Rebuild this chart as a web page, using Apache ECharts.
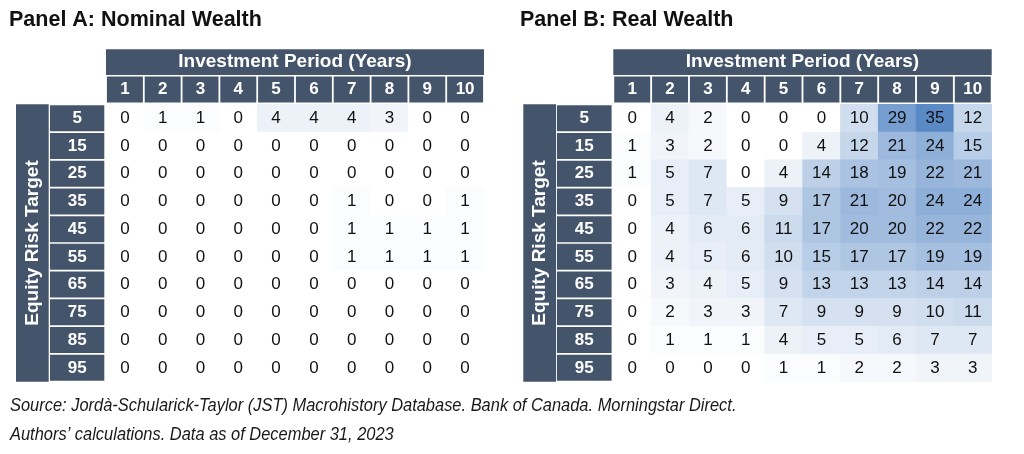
<!DOCTYPE html>
<html>
<head>
<meta charset="utf-8">
<script src="https://cdn.jsdelivr.net/npm/echarts@6/dist/echarts.min.js"></script>
<style>html,body{margin:0;padding:0;background:#fff}#c{width:1024px;height:454px}</style>
</head>
<body>
<div id="c"></div>
<script>
const periods = ['1','2','3','4','5','6','7','8','9','10'];
const riskTargets = ['5','15','25','35','45','55','65','75','85','95'];
const nominalWealth = [
  [0,1,1,0,4,4,4,3,0,0],
  [0,0,0,0,0,0,0,0,0,0],
  [0,0,0,0,0,0,0,0,0,0],
  [0,0,0,0,0,0,1,0,0,1],
  [0,0,0,0,0,0,1,1,1,1],
  [0,0,0,0,0,0,1,1,1,1],
  [0,0,0,0,0,0,0,0,0,0],
  [0,0,0,0,0,0,0,0,0,0],
  [0,0,0,0,0,0,0,0,0,0],
  [0,0,0,0,0,0,0,0,0,0]
];
const realWealth = [
  [0,4,2,0,0,0,10,29,35,12],
  [1,3,2,0,0,4,12,21,24,15],
  [1,5,7,0,4,14,18,19,22,21],
  [0,5,7,5,9,17,21,20,24,24],
  [0,4,6,6,11,17,20,20,22,22],
  [0,4,5,6,10,15,17,17,19,19],
  [0,3,4,5,9,13,13,13,14,14],
  [0,2,3,3,7,9,9,9,10,11],
  [0,1,1,1,4,5,5,6,7,7],
  [0,0,0,0,1,1,2,2,3,3]
];
const panelTitles = ['Panel A: Nominal Wealth', 'Panel B: Real Wealth'];
const xHeader = 'Investment Period (Years)';
const yHeader = 'Equity Risk Target';
const sourceLines = [
  'Source: Jordà-Schularick-Taylor (JST) Macrohistory Database. Bank of Canada. Morningstar Direct.',
  'Authors\u2019 calculations. Data as of December 31, 2023'
];

const FONT = '"Liberation Sans", Arial, sans-serif';
const HEAD = '#44546A';

function toCells(mat){
  const out = [];
  mat.forEach((row, r) => row.forEach((v, c) => out.push([c, r, v])));
  return out;
}

const grids = [
  {left: 106, top: 104.3, width: 378, height: 277.4},
  {left: 613.3, top: 104.3, width: 378.4, height: 277.4}
];

function xAxisFor(i){
  return {
    type: 'category', data: periods, gridIndex: i, position: 'top',
    axisLine: {show: false}, axisTick: {show: false}, splitLine: {show: false},
    axisLabel: {
      interval: 0, margin: 1.7,
      formatter: v => '{b|' + v + '}',
      rich: {b: {width: 36, height: 26, lineHeight: 26, align: 'center',
        backgroundColor: HEAD, color: '#fff', fontWeight: 'bold', fontSize: 17, fontFamily: FONT}}
    },
    name: '{n|' + xHeader + '}', nameLocation: 'middle', nameGap: 29.3, nameMoveOverlap: false,
    nameTextStyle: {rich: {n: {color: '#fff', fontWeight: 'bold', fontSize: 19, fontFamily: FONT,
      backgroundColor: HEAD, width: i === 0 ? 378 : 378.4, height: 25.7, lineHeight: 25.7, align: 'center'}}}
  };
}
function yAxisFor(i){
  return {
    type: 'category', data: riskTargets, gridIndex: i, inverse: true,
    axisLine: {show: false}, axisTick: {show: false}, splitLine: {show: false},
    axisLabel: {
      interval: 0, margin: 1.7,
      formatter: v => '{b|' + v + '}',
      rich: {b: {width: i === 0 ? 54.3 : 54.7, height: 26, lineHeight: 26, align: 'center',
        backgroundColor: HEAD, color: '#fff', fontWeight: 'bold', fontSize: 17, fontFamily: FONT}}
    },
    name: '{n|' + yHeader + '}', nameLocation: 'middle', nameRotate: 90, nameGap: 57.3, nameMoveOverlap: false,
    nameTextStyle: {rich: {n: {color: '#fff', fontWeight: 'bold', fontSize: 19, fontFamily: FONT,
      backgroundColor: HEAD, width: 277.4, height: 32.7, lineHeight: 32.7, align: 'center'}}}
  };
}
function seriesFor(i, mat){
  return {
    type: 'heatmap', xAxisIndex: i, yAxisIndex: i, data: toCells(mat),
    itemStyle: {borderWidth: 0},
    label: {show: true, color: '#111', fontSize: 17, fontFamily: FONT},
    emphasis: {disabled: true}
  };
}

const chart = echarts.init(document.getElementById('c'), null, {renderer: 'canvas'});
chart.setOption({
  animation: false,
  backgroundColor: '#fff',
  title: [
    {text: panelTitles[0], left: 4, top: 4, textStyle: {fontSize: 21.5, fontWeight: 'bold', color: '#111', fontFamily: FONT}},
    {text: panelTitles[1], left: 515, top: 4, textStyle: {fontSize: 21.5, fontWeight: 'bold', color: '#111', fontFamily: FONT}}
  ],
  graphic: [
    {type: 'text', x: 10, y: 396, scaleX: 0.865, silent: true,
      style: {text: sourceLines[0], fontSize: 19, fontStyle: 'italic', fill: '#1a1a1a', fontFamily: FONT}},
    {type: 'text', x: 10, y: 425, scaleX: 0.865, silent: true,
      style: {text: sourceLines[1], fontSize: 19, fontStyle: 'italic', fill: '#1a1a1a', fontFamily: FONT}}
  ],
  grid: grids.map(g => Object.assign({outerBoundsMode: 'none'}, g)),
  xAxis: [xAxisFor(0), xAxisFor(1)],
  yAxis: [yAxisFor(0), yAxisFor(1)],
  visualMap: {type: 'continuous', show: false, min: 0, max: 35, seriesIndex: [0, 1],
    inRange: {color: ['#FFFFFF', '#5A8AC6']}},
  series: [seriesFor(0, nominalWealth), seriesFor(1, realWealth)]
});
</script>
</body>
</html>
